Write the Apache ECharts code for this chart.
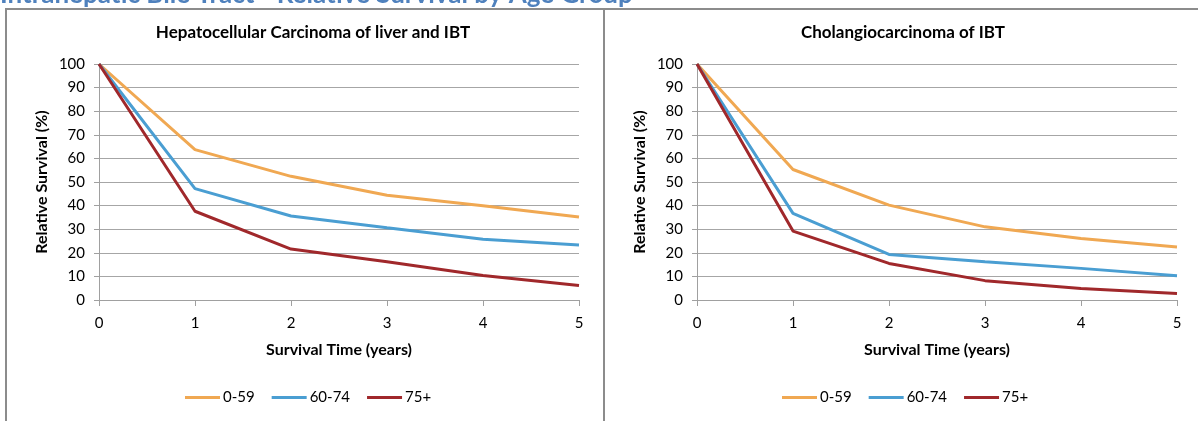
<!DOCTYPE html>
<html>
<head>
<meta charset="utf-8">
<script src="https://cdn.jsdelivr.net/npm/echarts@6/dist/echarts.min.js"></script>
<style>html,body{margin:0;padding:0;background:#fff}#c{width:1198px;height:421px}</style>
</head>
<body>
<div id="c"></div>
<script>
var years = [0, 1, 2, 3, 4, 5];
var seriesNames = ['0-59', '60-74', '75+'];
var yTicks = [0, 10, 20, 30, 40, 50, 60, 70, 80, 90, 100];
var mainTitle = 'Intrahepatic Bile Tract - Relative Survival by Age Group';
var leftTitle = 'Hepatocellular Carcinoma of liver and IBT';
var rightTitle = 'Cholangiocarcinoma of IBT';
var xName = 'Survival Time (years)';
var yName = 'Relative Survival (%)';

// Hepatocellular Carcinoma of liver and IBT
var hcc_0_59  = [100, 63.7, 52.4, 44.4, 39.9, 35.2];
var hcc_60_74 = [100, 47.2, 35.6, 30.6, 25.7, 23.3];
var hcc_75    = [100, 37.6, 21.6, 16.2, 10.4, 6.1];
// Cholangiocarcinoma of IBT
var cho_0_59  = [100, 55.3, 40.2, 31.0, 26.1, 22.5];
var cho_60_74 = [100, 36.7, 19.3, 16.2, 13.4, 10.3];
var cho_75    = [100, 29.2, 15.5, 8.2, 4.9, 2.8];

var colors = ['#F0A852', '#4A9ED2', '#A0282B'];
var FONT = 'Lato';

function pairs(vals) { return years.map(function (x, i) { return [x, vals[i]]; }); }

function xAxis(gi) {
  return {
    gridIndex: gi, type: 'value', min: 0, max: 5, interval: 1,
    name: xName, nameLocation: 'middle', nameGap: 42,
    nameTextStyle: { fontFamily: FONT, fontWeight: 'bold', fontSize: 16, color: '#000' },
    axisLine: { show: true, lineStyle: { color: '#A0A0A0', width: 1 } },
    axisTick: { show: true, length: 6, lineStyle: { color: '#A0A0A0' } },
    axisLabel: { fontFamily: FONT, fontSize: 15, color: '#000', margin: 16 },
    splitLine: { show: false }
  };
}
function yAxis(gi) {
  return {
    gridIndex: gi, type: 'value', min: 0, max: 100, interval: 10,
    name: yName, nameLocation: 'middle', nameGap: 49, nameRotate: 90,
    nameTextStyle: { fontFamily: FONT, fontWeight: 'bold', fontSize: 16, color: '#000' },
    axisLine: { show: true, lineStyle: { color: '#A0A0A0', width: 1 } },
    axisTick: { show: true, length: 5, lineStyle: { color: '#A0A0A0' } },
    axisLabel: { fontFamily: FONT, fontSize: 15, color: '#000', margin: 14,
      formatter: function (v) { return yTicks.indexOf(v) >= 0 ? String(v) : ''; } },
    splitLine: { show: true, lineStyle: { color: '#A6A6A6', width: 1 } }
  };
}
function line(name, vals, gi, ci) {
  return {
    name: name, type: 'line', xAxisIndex: gi, yAxisIndex: gi,
    data: pairs(vals), symbol: 'none', smooth: false,
    lineStyle: { color: colors[ci], width: 3 }, itemStyle: { color: colors[ci] },
    emphasis: { disabled: true }, animation: false
  };
}
function legend(left) {
  return {
    left: left, top: 390, padding: 0, data: seriesNames, icon: 'rect',
    itemWidth: 35, itemHeight: 3, itemGap: 17,
    textStyle: { fontFamily: FONT, fontSize: 15, color: '#000', padding: [0, 0, 0, -2] }
  };
}

var chart = echarts.init(document.getElementById('c'), null, { renderer: 'canvas' });
chart.setOption({
  animation: false,
  backgroundColor: '#fff',
  title: [
    { text: leftTitle, left: 313, top: 24, padding: 0, textAlign: 'center',
      textStyle: { fontFamily: FONT, fontWeight: 'bold', fontSize: 17, color: '#000' } },
    { text: rightTitle, left: 903, top: 24, padding: 0, textAlign: 'center',
      textStyle: { fontFamily: FONT, fontWeight: 'bold', fontSize: 17, color: '#000' } }
  ],
  grid: [
    { left: 99, top: 64, width: 480, height: 236 },
    { left: 697, top: 64, width: 480, height: 236 }
  ],
  xAxis: [xAxis(0), xAxis(1)],
  yAxis: [yAxis(0), yAxis(1)],
  legend: [legend(185), legend(782)],
  series: [
    line(seriesNames[0], hcc_0_59, 0, 0),
    line(seriesNames[1], hcc_60_74, 0, 1),
    line(seriesNames[2], hcc_75, 0, 2),
    line(seriesNames[0], cho_0_59, 1, 0),
    line(seriesNames[1], cho_60_74, 1, 1),
    line(seriesNames[2], cho_75, 1, 2)
  ],
  graphic: [
    { type: 'text', left: 0, top: -18, z: 10,
      style: { text: mainTitle, fontFamily: FONT, fontWeight: 'bold', fontSize: 26, fill: '#4F81BD' } },
    { type: 'line', shape: { x1: 6, y1: 9, x2: 1198, y2: 9 }, style: { stroke: '#8C8C8C', lineWidth: 2 } },
    { type: 'line', shape: { x1: 6, y1: 8, x2: 6, y2: 421 }, style: { stroke: '#8C8C8C', lineWidth: 2 } },
    { type: 'line', shape: { x1: 604, y1: 8, x2: 604, y2: 421 }, style: { stroke: '#8C8C8C', lineWidth: 2 } }
  ]
});
</script>
</body>
</html>
